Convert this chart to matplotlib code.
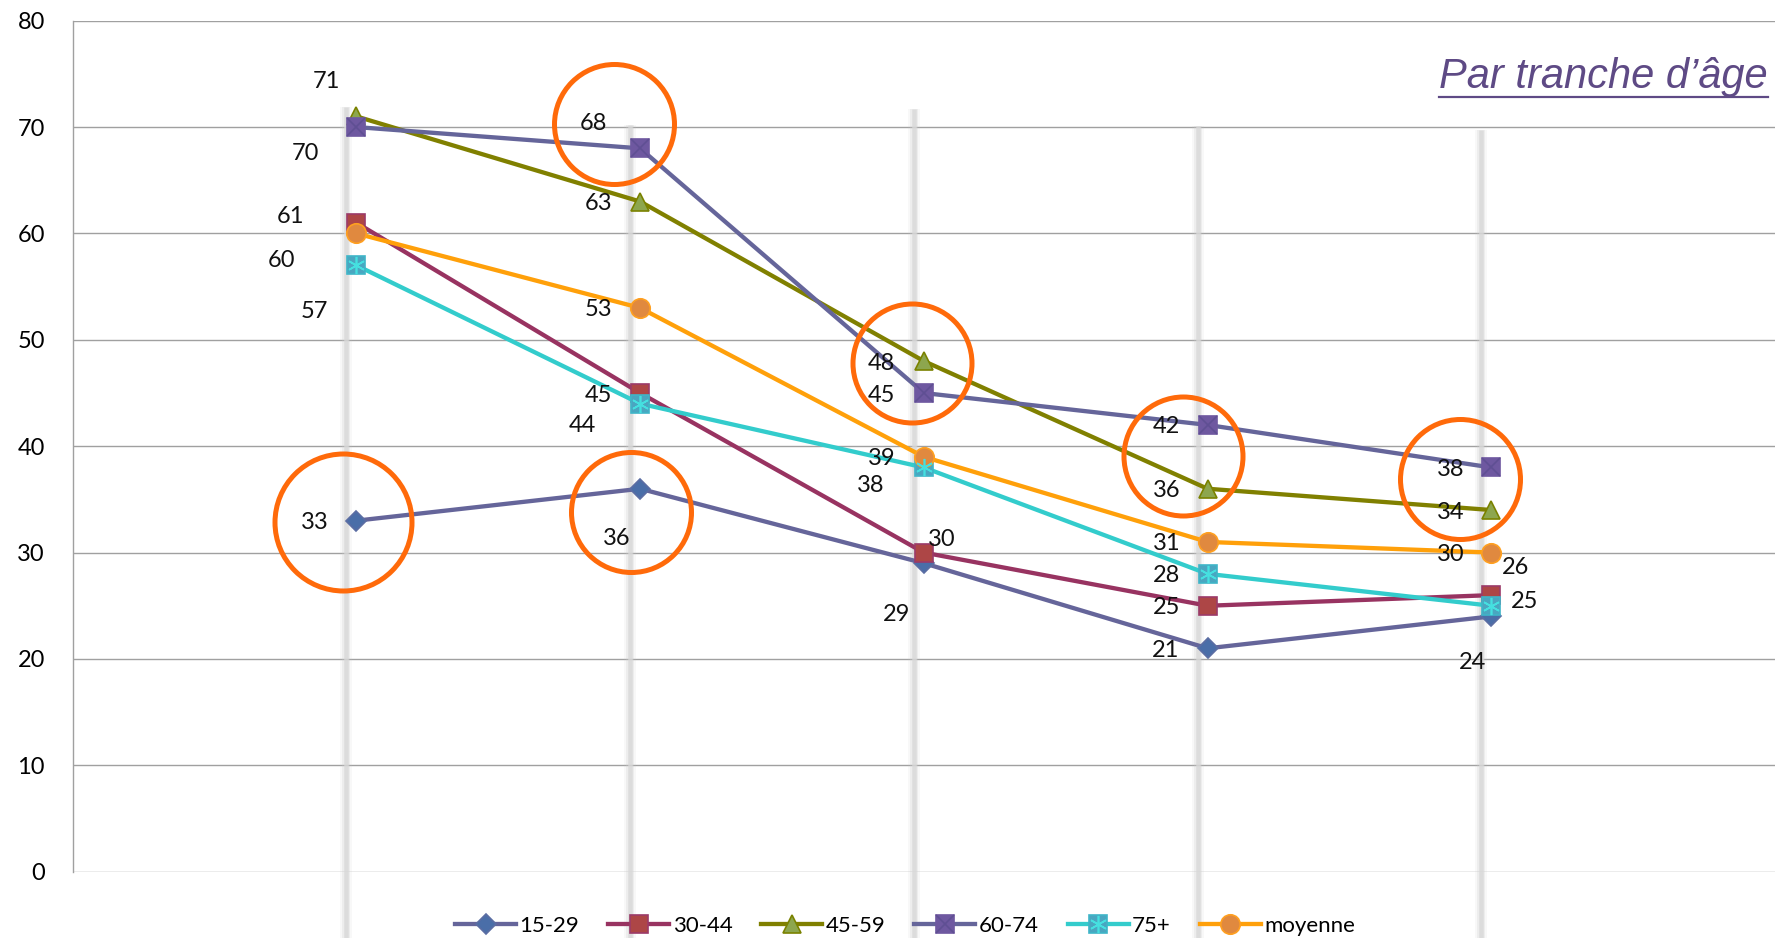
import matplotlib
matplotlib.use("Agg")
import matplotlib.pyplot as plt
from matplotlib.transforms import offset_copy
from matplotlib.lines import Line2D
from matplotlib.legend_handler import HandlerTuple

# ---------------- data ----------------
periods = [0, 1, 2, 3, 4]
series_names = ["15-29", "30-44", "45-59", "60-74", "75+", "moyenne"]
v_15_29 = [33, 36, 29, 21, 24]
v_30_44 = [61, 45, 30, 25, 26]
v_45_59 = [71, 63, 48, 36, 34]
v_60_74 = [70, 68, 45, 42, 38]
v_75p = [57, 44, 38, 28, 25]
v_moy = [60, 53, 39, 31, 30]
y_ticks = [0, 10, 20, 30, 40, 50, 60, 70, 80]
title_text = "Par tranche d\u2019\u00e2ge"

values = [v_15_29, v_30_44, v_45_59, v_60_74, v_75p, v_moy]

# ---------------- styles ----------------
line_colors = ["#65659A", "#983361", "#808000", "#65659A", "#33CCCC", "#FFA00A"]
markers = ["D", "s", "^", "s", "s", "o"]
marker_sizes = [10.5, 13, 13.5, 13, 13, 14]
marker_faces = ["#4A6EA8", "#AD4646", "#8DA64E", "#6E58A0", "#4AA6C0", "#E0893F"]
marker_edges = ["#5B6DA3", "#9B3A68", "#7A8200", "#6E58A0", "#3FB5C8", "#FFA020"]
overlay_markers = [None, None, None, "x", (6, 2, 0), None]
overlay_colors = [None, None, None, "#5F4F93", "#45E0E0", None]

# label offsets in pixels (dx right, dy down) relative to the point
label_offsets = [
    [(-42, 0), (-23, 48), (-27, 49), (-42, 0), (-19, 44)],
    [(-66, -8), (-42, 0), (18, -15), (-41, 0), (24, -30)],
    [(-30, -37), (-42, 0), (-42, 0), (-41, 0), (-41, 0)],
    [(-51, 24), (-47, -27), (-42, 0), (-41, 0), (-41, 0)],
    [(-42, 44), (-58, 20), (-53, 16), (-41, 0), (33, -6)],
    [(-75, 25), (-42, 0), (-42, 0), (-41, 0), (-41, 0)],
]

# highlight circles: (series index, period index, dx px, dy px, diameter px)
circles = [
    (0, 0, -13, 1, 137),
    (0, 1, -9, 23, 120),
    (3, 1, -26, -24, 120),
    (2, 2, -12, 1.5, 119),
    (3, 3, -25, 31, 119),
    (3, 4, -31, 12, 120),
]

band_tops = [71.9, 70.2, 71.7, 70.1, 69.7]

W, H, DPI = 1778, 938, 100
fig = plt.figure(figsize=(W / DPI, H / DPI), dpi=DPI)
fig.patch.set_facecolor("white")
ax = fig.add_axes([72.7 / W, 1 - 871.7 / H, (1775 - 72.7) / W, (871.7 - 20.7) / H])
ax.set_xlim(-1, 5)
ax.set_ylim(0, 80)
ax.set_facecolor("none")

FONT = ["Lato", "DejaVu Sans"]
PT = 72.0 / DPI

# grid
for y in y_ticks:
    ax.axhline(y, color="#A0A0A0", lw=1.0, zorder=0.5)
for s in ["top", "right", "bottom"]:
    ax.spines[s].set_visible(False)
ax.spines["left"].set_color("#A0A0A0")
ax.spines["left"].set_linewidth(1.0)
ax.set_yticks(y_ticks)
ax.set_yticklabels([str(t) for t in y_ticks], fontsize=17, family=FONT)
ax.tick_params(axis="y", length=0, pad=20)
ax.set_xticks([])

# vertical gray bands (shadow-like)
band_tr = offset_copy(ax.transData, fig=fig, x=-10, y=0, units="dots")
for p, top in zip(periods, band_tops):
    for lw, a, c in [(12, 0.12, "#C8C8C8"), (8, 0.25, "#CFCFCF"), (4.5, 0.8, "#D8D8D8")]:
        ax.plot([p, p], [top, -8], transform=band_tr, color=c, lw=lw * PT,
                alpha=a, clip_on=False, zorder=1, solid_capstyle="butt")

handles = []
for k, name in enumerate(series_names):
    ln, = ax.plot(periods, values[k], color=line_colors[k], lw=3.1, zorder=3,
                  marker=markers[k], ms=marker_sizes[k], mfc=marker_faces[k],
                  mec=marker_edges[k], mew=1.2, solid_joinstyle="round",
                  label=name)
    h = [ln]
    if overlay_markers[k] is not None:
        ov, = ax.plot(periods, values[k], ls="none", marker=overlay_markers[k],
                      ms=marker_sizes[k] * 0.95, mec=overlay_colors[k], mew=1.2,
                      zorder=3.1)
        h.append(ov)
    handles.append(tuple(h))
    for p, v, (dx, dy) in zip(periods, values[k], label_offsets[k]):
        ax.annotate(str(v), (p, v), xytext=(dx * PT, -dy * PT), textcoords="offset points",
                    ha="center", va="center_baseline", fontsize=17, family=FONT,
                    color="#111111", zorder=4)

# highlight circles
for si, pi, dx, dy, d in circles:
    tr = offset_copy(ax.transData, fig=fig, x=dx, y=-dy, units="dots")
    ax.plot([periods[pi]], [values[si][pi]], transform=tr, ls="none", marker="o",
            ms=d * PT, mfc="none", mec="#FF6A0A", mew=5 * PT, zorder=5, clip_on=False)

# legend
fig.legend(handles, series_names, loc="center", bbox_to_anchor=(0.509, 1 - 926 / H),
           ncol=6, frameon=False, prop={"family": FONT, "size": 16},
           handlelength=2.75, handletextpad=0.15, columnspacing=1.3, numpoints=1,
           handler_map={tuple: HandlerTuple(ndivide=1)}, borderaxespad=0)

# title (italic, underlined)
t = fig.text(1768 / W, 1 - 88 / H, title_text, ha="right", va="baseline",
             fontsize=30, style="italic", color="#5E4A85",
             family=["Liberation Sans", "DejaVu Sans"])
fig.canvas.draw()
bb = t.get_window_extent()
fig.add_artist(Line2D([bb.x0 / W, bb.x1 / W], [1 - 97 / H, 1 - 97 / H],
                      transform=fig.transFigure, color="#5E4A85", lw=2.2 * PT))

fig.savefig("out.png", dpi=DPI, facecolor="white")
